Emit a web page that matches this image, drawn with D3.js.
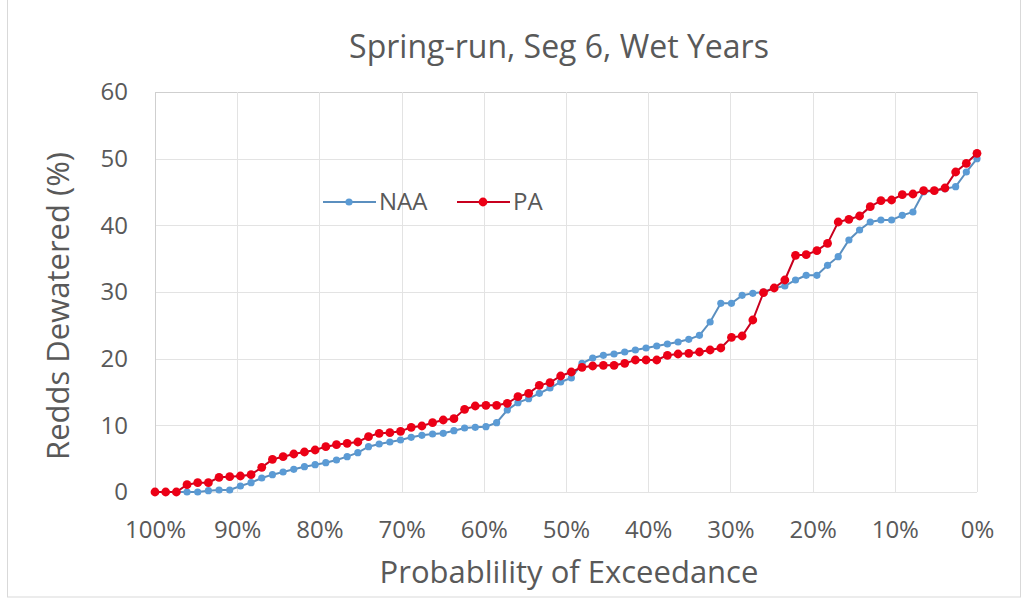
<!DOCTYPE html>
<html>
<head>
<meta charset="utf-8">
<script src="https://cdn.jsdelivr.net/npm/d3@7"></script>
<style>
  html, body { margin: 0; padding: 0; background: #fff; }
  svg { display: block; }
  text { font-family: "Open Sans", "Noto Sans", sans-serif; fill: #595959; }
</style>
</head>
<body>
<svg id="chart" width="1026" height="602"></svg>
<script>
// ---- Data ----
const chartTitle = "Spring-run, Seg 6, Wet Years";
const xAxisTitle = "Probablility of Exceedance";
const yAxisTitle = "Redds Dewatered (%)";
const seriesNames = ["NAA", "PA"];
const xTickValues = [100, 90, 80, 70, 60, 50, 40, 30, 20, 10, 0];
const xTickLabels = ["100%", "90%", "80%", "70%", "60%", "50%", "40%", "30%", "20%", "10%", "0%"];
const yTickValues = [0, 10, 20, 30, 40, 50, 60];

// Sorted values, from highest exceedance (100%) to lowest (0%)
const naaValues = [
  0, 0, 0, 0, 0, 0.2, 0.3, 0.3, 0.9, 1.4,
  2.1, 2.6, 3.0, 3.4, 3.8, 4.1, 4.4, 4.8, 5.3, 5.9,
  6.8, 7.2, 7.5, 7.8, 8.2, 8.5, 8.7, 8.8, 9.2, 9.6,
  9.7, 9.8, 10.4, 12.3, 13.4, 14.0, 14.8, 15.6, 16.5, 17.1,
  19.3, 20.1, 20.5, 20.7, 21.0, 21.3, 21.6, 21.9, 22.2, 22.5,
  22.9, 23.5, 25.5, 28.3, 28.3, 29.5, 29.8, 30.0, 30.6, 30.9,
  31.8, 32.5, 32.5, 34.0, 35.3, 37.8, 39.3, 40.5, 40.8, 40.8,
  41.5, 42.0, 45.0, 45.2, 45.5, 45.8, 48.0, 50.0
];
const paValues = [
  0, 0, 0, 1.1, 1.4, 1.4, 2.2, 2.3, 2.4, 2.6,
  3.7, 4.9, 5.3, 5.7, 6.0, 6.3, 6.8, 7.1, 7.3, 7.5,
  8.3, 8.8, 8.9, 9.1, 9.7, 9.9, 10.4, 10.8, 11.0, 12.4,
  12.9, 13.0, 13.0, 13.3, 14.3, 14.8, 16.0, 16.4, 17.4, 18.0,
  18.7, 18.9, 19.0, 19.0, 19.3, 19.8, 19.8, 19.8, 20.5, 20.7,
  20.8, 21.0, 21.3, 21.6, 23.2, 23.4, 25.8, 29.9, 30.6, 31.8,
  35.5, 35.6, 36.2, 37.3, 40.5, 40.9, 41.4, 42.8, 43.7, 43.8,
  44.6, 44.7, 45.2, 45.2, 45.6, 48.0, 49.3, 50.8
];

// ---- Layout ----
const plot = { left: 155, right: 977, top: 92, bottom: 492 };
const svg = d3.select("#chart");

// chart area border
svg.append("rect")
  .attr("x", 7.5).attr("y", -1).attr("width", 1013).attr("height", 598)
  .attr("fill", "#fff").attr("stroke", "#d9d9d9").attr("stroke-width", 1);

const x = d3.scaleLinear().domain([100, 0]).range([plot.left, plot.right]);
const y = d3.scaleLinear().domain([0, 60]).range([plot.bottom, plot.top]);

// exceedance position of each ranked value
const exceed = (i, n) => 100 * (1 - i / (n - 1));

// gridlines
const grid = svg.append("g").attr("class", "grid");
grid.selectAll("line.h").data(yTickValues).join("line")
  .attr("class", "h")
  .attr("x1", plot.left).attr("x2", plot.right)
  .attr("y1", d => Math.round(y(d)) + 0.5).attr("y2", d => Math.round(y(d)) + 0.5)
  .attr("stroke", d => d === 60 ? "#cfcfcf" : "#e3e3e3").attr("stroke-width", 1);
grid.selectAll("line.v").data(xTickValues).join("line")
  .attr("class", "v")
  .attr("y1", plot.top).attr("y2", plot.bottom)
  .attr("x1", d => Math.round(x(d)) + 0.5).attr("x2", d => Math.round(x(d)) + 0.5)
  .attr("stroke", d => d === 100 ? "#cfcfcf" : "#e3e3e3").attr("stroke-width", 1);

// axes (labels only, Excel style)
const xAxis = d3.axisBottom(x).tickValues(xTickValues)
  .tickFormat((d, i) => xTickLabels[i]).tickSize(0).tickPadding(0);
const gx = svg.append("g").attr("transform", `translate(0, 530)`).call(xAxis);
gx.select(".domain").remove();
gx.selectAll("text").attr("font-size", 24).attr("fill", "#595959")
  .attr("font-family", "'Open Sans', sans-serif").attr("dy", "0.35em").attr("y", 0);

const yAxis = d3.axisLeft(y).tickValues(yTickValues).tickSize(0).tickPadding(0);
const gy = svg.append("g").attr("transform", `translate(${plot.left - 27}, 0)`).call(yAxis);
gy.select(".domain").remove();
gy.selectAll("text").attr("font-size", 24).attr("fill", "#595959")
  .attr("font-family", "'Open Sans', sans-serif").attr("x", 0);

// series
const series = [
  { name: seriesNames[0], values: naaValues, line: "#5b8fbf", marker: "#5b9bd5", r: 3.6 },
  { name: seriesNames[1], values: paValues, line: "#c8001e", marker: "#ec0016", r: 4.4 }
];
const lineGen = d3.line().x(d => x(d.p)).y(d => y(d.v));
series.forEach(s => {
  const pts = s.values.map((v, i, arr) => ({ p: exceed(i, arr.length), v }));
  const g = svg.append("g");
  g.append("path").datum(pts).attr("d", lineGen)
    .attr("fill", "none").attr("stroke", s.line).attr("stroke-width", 2);
  g.selectAll("circle").data(pts).join("circle")
    .attr("cx", d => x(d.p)).attr("cy", d => y(d.v)).attr("r", s.r)
    .attr("fill", s.marker);
});

// legend
const legendItems = [
  { s: series[0], x0: 323, tx: 379 },
  { s: series[1], x0: 457, tx: 513 }
];
const lg = svg.append("g");
legendItems.forEach(it => {
  lg.append("line").attr("x1", it.x0).attr("x2", it.x0 + 53).attr("y1", 202).attr("y2", 202)
    .attr("stroke", it.s.line).attr("stroke-width", 2);
  lg.append("circle").attr("cx", it.x0 + 26).attr("cy", 202).attr("r", it.s.r).attr("fill", it.s.marker);
  lg.append("text").attr("x", it.tx).attr("y", 202).attr("dy", "0.35em")
    .attr("font-size", 24).text(it.s.name);
});

// titles
svg.append("text").attr("x", 559).attr("y", 47).attr("dy", "0.35em")
  .attr("text-anchor", "middle").attr("font-size", 32).text(chartTitle);
svg.append("text").attr("x", 569).attr("y", 572).attr("dy", "0.35em")
  .attr("text-anchor", "middle").attr("font-size", 31).text(xAxisTitle);
svg.append("text").attr("transform", "translate(58, 306) rotate(-90)").attr("dy", "0.35em")
  .attr("text-anchor", "middle").attr("font-size", 31).text(yAxisTitle);
</script>
</body>
</html>
